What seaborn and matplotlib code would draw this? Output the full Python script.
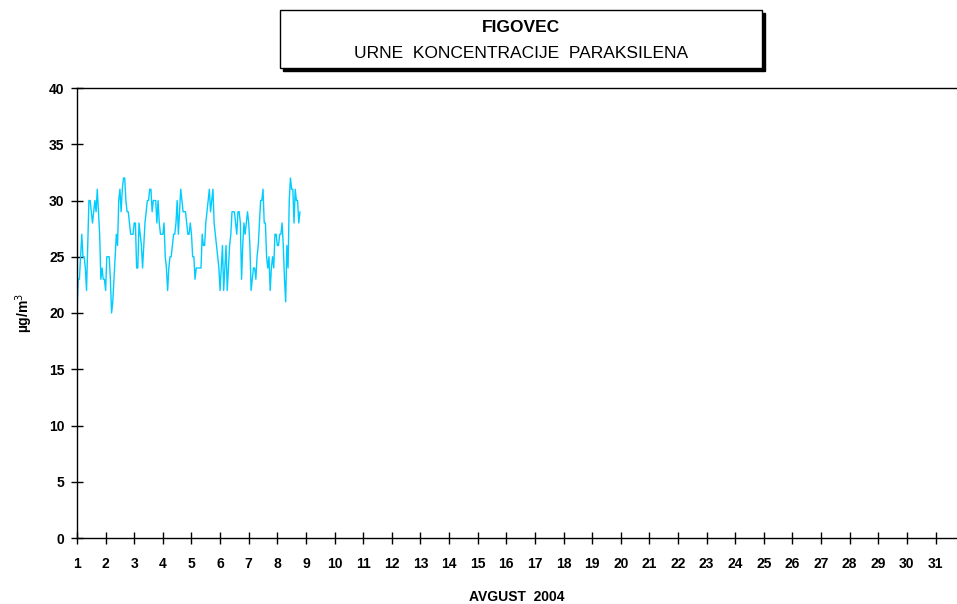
import numpy as np
import pandas as pd
import matplotlib
matplotlib.use("Agg")
import matplotlib.pyplot as plt
from matplotlib.patches import Rectangle
import seaborn as sns

# hourly paraxylene concentrations (ug/m3), August 2004, starting 1 Aug 00:00
day1 = [20, 23, 23, 25, 27, 25, 25, 24, 22, 26, 30, 30, 29, 28, 29, 30, 29, 31, 29, 27, 23, 24, 23, 23]
day2 = [22, 25, 25, 25, 23, 20, 21, 23, 25, 27, 26, 30, 31, 29, 31, 32, 32, 30, 29, 29, 28, 27, 27, 27]
day3 = [28, 28, 24, 24, 28, 27, 26, 24, 26, 28, 29, 30, 30, 31, 31, 29, 30, 30, 30, 28, 30, 28, 27, 27]
day4 = [27, 28, 25, 24, 22, 24, 25, 25, 26, 27, 27, 28, 30, 27, 29, 31, 30, 29, 29, 29, 28, 27, 27, 28]
day5 = [27, 25, 25, 23, 24, 24, 24, 24, 24, 27, 26, 26, 28, np.nan, 30, 31, 29, 30, 31, 28, 27, 26, 25, 24]
day6 = [22, 24, 26, 22, 24, 26, 22, 24, 26, 27, 29, 29, 29, 28, 27, 29, 29, 28, 23, 26, 28, 27, 28, 29]
day7 = [28, 26, 22, 23, 24, 24, 23, 25, 26, 28, 30, 30, 31, 28, 28, 25, 24, 25, 22, 24, 25, 24, 27, 27]
day8 = [26, 26, 27, 27, 28, 26, 23, 21, 26, 24, 30, 32, 31, 31, 28, 31, 30, 30, 28, 29]

values = day1 + day2 + day3 + day4 + day5 + day6 + day7 + day8
days = list(range(1, 32))
y_ticks = [0, 5, 10, 15, 20, 25, 30, 35, 40]

df = pd.DataFrame({"day": 1 + np.arange(len(values)) / 24, "conc": values})

sns.set_style("white")
plt.rcParams["font.family"] = ["Liberation Sans", "DejaVu Sans"]
plt.rcParams["text.color"] = "black"
plt.rcParams["axes.labelcolor"] = "black"
plt.rcParams["xtick.color"] = "black"
plt.rcParams["ytick.color"] = "black"

fig = plt.figure(figsize=(9.57, 6.04), dpi=100)
ax = fig.add_axes([77 / 957, 66 / 604, 880 / 957, 450 / 604])

sns.lineplot(data=df, x="day", y="conc", ax=ax, color="#00CCFF", linewidth=1.0)

ax.set_xlim(1, 31.75)
ax.set_ylim(0, 40)
ax.set_xticks(days)
ax.set_xticklabels([str(d) for d in days], fontweight="bold", fontsize=10)
ax.set_yticks(y_ticks)
ax.set_yticklabels([str(v) for v in y_ticks], fontweight="bold", fontsize=10)
ax.tick_params(bottom=True, left=True, direction="inout", length=8, width=1,
               color="black", labelcolor="black", pad=5)
ax.tick_params(axis="x", pad=10)
for side in ["left", "bottom", "top"]:
    ax.spines[side].set_color("black")
    ax.spines[side].set_linewidth(1)
ax.spines["right"].set_visible(False)

ax.set_xlabel("AVGUST  2004", fontweight="bold", fontsize=10)
ax.xaxis.set_label_coords(0.5, -0.115)
ax.set_ylabel("µg/m$^3$", fontweight="bold", fontsize=10, labelpad=10)

# title box with drop shadow
bx, by, bw, bh = 280 / 957, 1 - 68 / 604, 482 / 957, 58 / 604
fig.add_artist(Rectangle((bx + 3 / 957, by - 3 / 604), bw, bh, transform=fig.transFigure,
                         facecolor="black", edgecolor="black"))
fig.add_artist(Rectangle((bx, by), bw, bh, transform=fig.transFigure,
                         facecolor="white", edgecolor="black", linewidth=1))
fig.text(bx + bw / 2, 1 - 27 / 604, "FIGOVEC", ha="center", va="center",
         fontweight="bold", fontsize=12.5)
fig.text(bx + bw / 2, 1 - 54 / 604, "URNE  KONCENTRACIJE  PARAKSILENA", ha="center", va="center",
         fontsize=12.5)

fig.savefig("out.png", dpi=100)
